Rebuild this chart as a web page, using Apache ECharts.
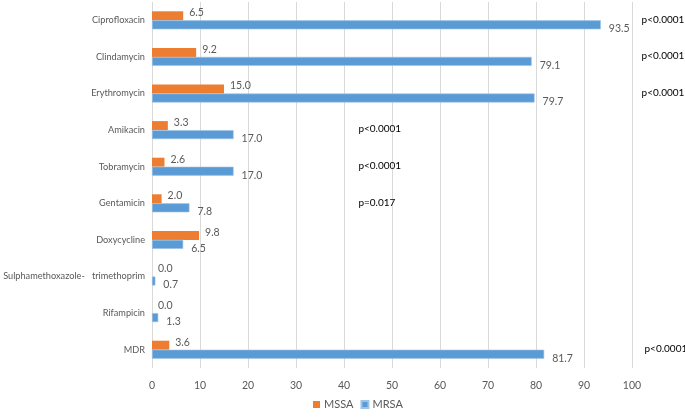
<!DOCTYPE html>
<html><head><meta charset="utf-8">
<script src="https://cdn.jsdelivr.net/npm/echarts@6/dist/echarts.min.js"></script>
<style>html,body{margin:0;padding:0;background:#fff}#c{width:685px;height:418px}</style>
</head><body><div id="c"></div>
<script>
const categories = ['Ciprofloxacin','Clindamycin','Erythromycin','Amikacin','Tobramycin','Gentamicin','Doxycycline','Sulphamethoxazole-   trimethoprim','Rifampicin','MDR'];
const mssa = [6.5, 9.2, 15.0, 3.3, 2.6, 2.0, 9.8, 0.0, 0.0, 3.6];
const mrsa = [93.5, 79.1, 79.7, 17.0, 17.0, 7.8, 6.5, 0.7, 1.3, 81.7];
const xTicks = [0,10,20,30,40,50,60,70,80,90,100];
// p-value annotations: [category, text, x position in data units]
const pValues = [
  ['Ciprofloxacin','p<0.0001',102],
  ['Clindamycin','p<0.0001',102],
  ['Erythromycin','p<0.0001',102],
  ['Amikacin','p<0.0001',43],
  ['Tobramycin','p<0.0001',43],
  ['Gentamicin','p=0.017',43],
  ['MDR','p<0.0001',102.6]
];
const font = 'Lato, Liberation Sans, sans-serif';
const txt = '#595959';
const chart = echarts.init(document.getElementById('c'));
chart.setOption({
  animation:false,
  textStyle:{fontFamily:font},
  grid:{left:152,right:53,top:2,bottom:50,outerBoundsMode:'none',containLabel:false},
  legend:{bottom:3,left:308,itemWidth:7,itemHeight:7,itemGap:7,icon:'rect',
    textStyle:{color:txt,fontSize:11,fontFamily:font,padding:[0,0,0,-1]},data:['MSSA','MRSA']},
  xAxis:{type:'value',min:0,max:100,interval:10,
    axisLine:{show:false},axisTick:{show:false},
    axisLabel:{color:txt,fontSize:10.5,margin:12,fontFamily:font},
    splitLine:{lineStyle:{color:'#d9d9d9',width:1}}},
  yAxis:{type:'category',data:categories,inverse:true,
    axisLine:{show:false},axisTick:{show:false},
    axisLabel:{color:txt,fontSize:9.2,margin:7,fontFamily:font}},
  series:[
    {name:'MSSA',type:'bar',data:mssa,barWidth:9,barGap:'0%',
     itemStyle:{color:'#ED7D31'},
     label:{show:true,position:'right',distance:6,offset:[0,-3],color:txt,fontSize:10.5,fontFamily:font,
       formatter:p=>p.value.toFixed(1)}},
    {name:'MRSA',type:'bar',data:mrsa,barWidth:9,
     itemStyle:{color:'#5B9BD5',borderColor:'#9DC3E6',borderWidth:0.6},
     label:{show:true,position:'right',distance:8,offset:[0,4],color:txt,fontSize:10.5,fontFamily:font,
       formatter:p=>p.value.toFixed(1)}}
  ]
});
const g = pValues.map(([cat,t,xv])=>{
  const pt = chart.convertToPixel({gridIndex:0},[xv,cat]);
  return {type:'text',x:pt[0],y:pt[1]-6,style:{text:t,fill:'#000',font:'10px '+font}};
});
chart.setOption({graphic:g});
</script></body></html>
